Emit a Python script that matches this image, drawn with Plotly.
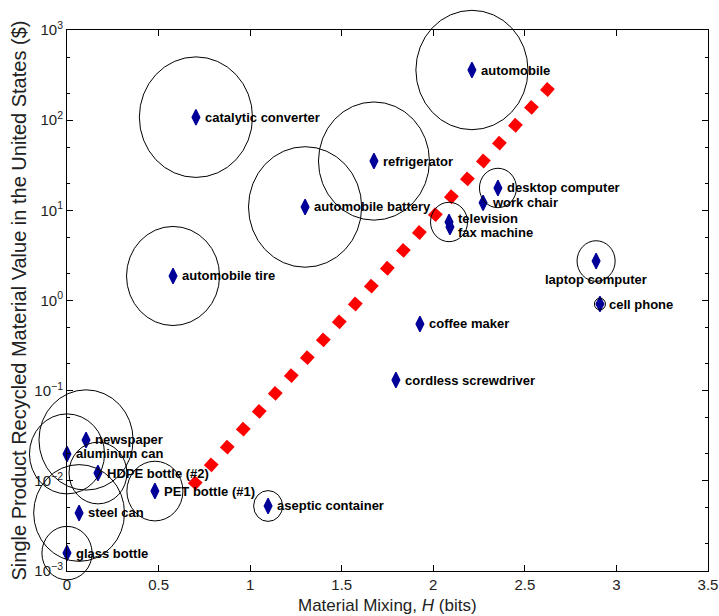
import numpy as np
import plotly.graph_objects as go

# ---- data ----
products = ["automobile", "catalytic converter", "refrigerator", "desktop computer",
            "work chair", "automobile battery", "television", "fax machine",
            "laptop computer", "cell phone", "automobile tire", "coffee maker",
            "cordless screwdriver", "newspaper", "aluminum can", "HDPE bottle (#2)",
            "PET bottle (#1)", "aseptic container", "steel can", "glass bottle"]
mixing_H = [2.211, 0.704, 1.676, 2.353, 2.272, 1.300, 2.086, 2.091, 2.889, 2.910,
            0.579, 1.927, 1.796, 0.104, 0.0, 0.169, 0.480, 1.098, 0.066, 0.0]
value_usd = [360, 108, 35.2, 17.7, 12.1, 10.9, 7.43, 6.53, 2.74, 0.914,
             1.87, 0.549, 0.131, 0.0284, 0.0199, 0.0122, 0.0077, 0.00526, 0.0044, 0.00158]
# circle radius (uncertainty) in bits
radius_bits = [0.306, 0.309, 0.303, 0.101, 0.0, 0.309, 0.101, 0.0, 0.104, 0.030,
               0.254, 0.0, 0.0, 0.257, 0.205, 0.158, 0.153, 0.079, 0.248, 0.137]
# trend line endpoints
trend_H = [0.681, 2.644]
trend_value = [0.0086, 244]

x_ticks = [0, 0.5, 1, 1.5, 2, 2.5, 3, 3.5]
x_ticktext = ["0", "0.5", "1", "1.5", "2", "2.5", "3", "3.5"]
y_exponents = [-3, -2, -1, 0, 1, 2, 3]

x_title = "Material Mixing, <i>H</i> (bits)"
y_title = "Single Product Recycled Material Value in the United States ($)"

# ---- layout geometry ----
W, H = 719, 616
ml, mr, mt, mb = 67, 11, 30, 45
pw, ph = W - ml - mr, H - mt - mb
xr = [0, 3.5]
yr = [-3, 3]
stretch = 1.065

FONT = "Liberation Sans, Arial, sans-serif"

fig = go.Figure()

# trend line (thick dotted red)
fig.add_trace(go.Scatter(x=trend_H, y=trend_value, mode="lines",
                         line=dict(color="#ff0000", width=10.5, dash="10.5px,13.5px"),
                         hoverinfo="skip", showlegend=False))

# product markers
fig.add_trace(go.Scatter(x=mixing_H, y=value_usd, mode="markers",
                         marker=dict(symbol="diamond-tall", size=11, color="#000099",
                                     line=dict(color="#000099", width=1.3)),
                         cliponaxis=False, showlegend=False, text=products))

# circles as paper-referenced ellipses
px_per_bit = pw / (xr[1] - xr[0])
for xv, yv, r in zip(mixing_H, value_usd, radius_bits):
    if r <= 0:
        continue
    cx = (xv - xr[0]) / (xr[1] - xr[0])
    cy = (np.log10(yv) - yr[0]) / (yr[1] - yr[0])
    rx = r / (xr[1] - xr[0])
    ry = r * px_per_bit * stretch / ph
    fig.add_shape(type="circle", xref="paper", yref="paper",
                  x0=cx - rx, x1=cx + rx, y0=cy - ry, y1=cy + ry,
                  line=dict(color="black", width=1), layer="above")

# labels
special = {
    "laptop computer": dict(xanchor="center", yanchor="middle", xshift=0, yshift=-18),
    "television": dict(xanchor="left", yanchor="middle", xshift=7, yshift=3),
    "fax machine": dict(xanchor="left", yanchor="middle", xshift=6, yshift=-5),
}
for name, xv, yv in zip(products, mixing_H, value_usd):
    opts = dict(xanchor="left", yanchor="middle", xshift=7, yshift=0)
    opts.update(special.get(name, {}))
    fig.add_annotation(x=xv, y=np.log10(yv), text="<b>%s</b>" % name, showarrow=False,
                       font=dict(family=FONT, size=13, color="black"), **opts)

# axis titles
fig.add_annotation(xref="paper", yref="paper", x=0.5, y=0, yshift=-34,
                   xanchor="center", yanchor="middle", showarrow=False, text=x_title,
                   font=dict(size=17, family=FONT, color="#222"))
fig.add_annotation(xref="paper", yref="paper", x=0, y=0.5, xshift=-49,
                   xanchor="center", yanchor="middle", showarrow=False, text=y_title,
                   textangle=-90, font=dict(size=20, family=FONT, color="#222"))

fig.update_layout(
    width=W, height=H,
    margin=dict(l=ml, r=mr, t=mt, b=mb, autoexpand=False),
    paper_bgcolor="white", plot_bgcolor="white",
    font=dict(family=FONT, color="#222222"),
    xaxis=dict(range=xr, tickvals=x_ticks, ticktext=x_ticktext, automargin=False,
               ticks="inside", ticklen=6, tickcolor="black",
               showline=True, linecolor="black", linewidth=1, mirror="ticks",
               showgrid=False, zeroline=False,
               tickfont=dict(size=15, family=FONT, color="#222")),
    yaxis=dict(type="log", range=yr, automargin=False,
               tickvals=[10.0 ** e for e in y_exponents],
               ticktext=["10<sup>%s</sup>" % (str(e).replace("-", "−")) for e in y_exponents],
               ticks="inside", ticklen=6, tickcolor="black",
               minor=dict(ticks="inside", ticklen=3, tickcolor="black", showgrid=False),
               showline=True, linecolor="black", linewidth=1, mirror="ticks",
               showgrid=False, zeroline=False,
               tickfont=dict(size=15, family=FONT, color="#222")),
)

fig.write_html("out.html", config={"displayModeBar": False},
               post_script="document.body.style.margin='0px';document.body.style.overflow='hidden';")
